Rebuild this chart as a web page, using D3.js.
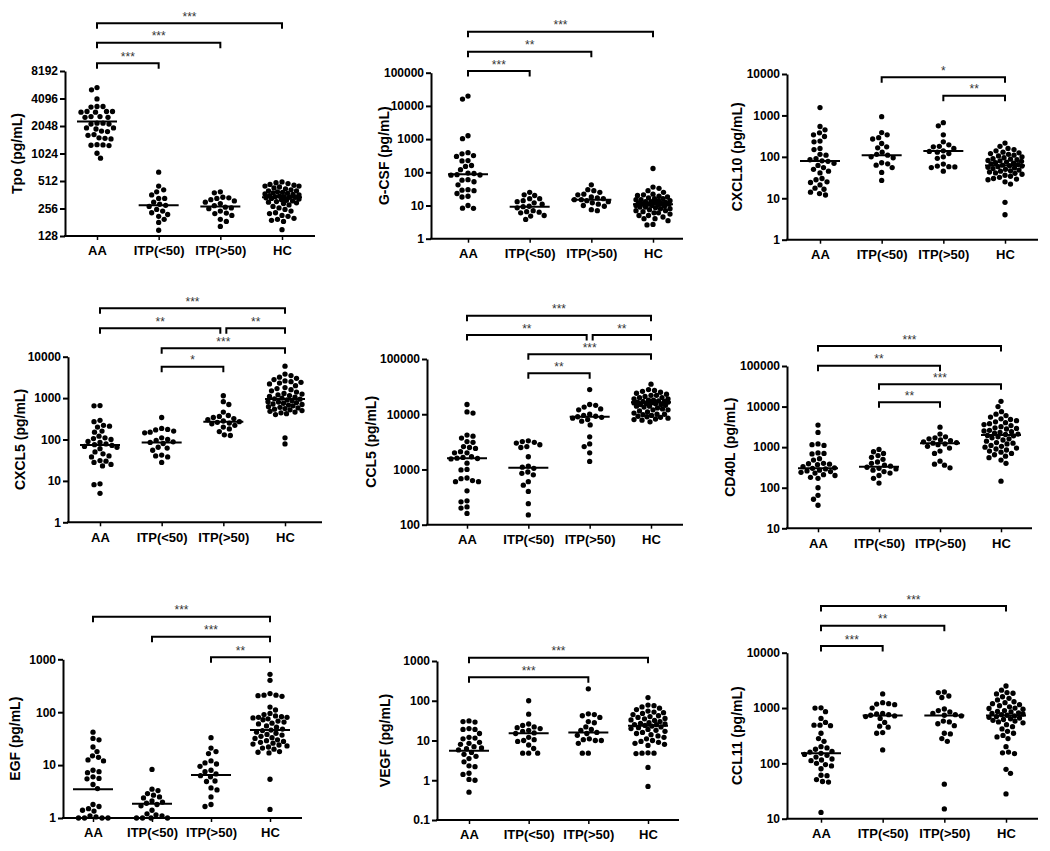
<!DOCTYPE html>
<html><head><meta charset="utf-8">
<script src="https://cdn.jsdelivr.net/npm/d3@7"></script>
<style>
body{margin:0;background:#fff}
text{font-family:"Liberation Sans",Arial,sans-serif}
</style>
</head><body>
<svg id="chart" width="1050" height="851"></svg>
<script>
const categories = ["AA", "ITP(<50)", "ITP(>50)", "HC"];

// ---- values: [AA, ITP(<50), ITP(>50), HC] ----
const tpoValues = [
  [5400,5100,4050,3350,3350,3300,2950,2950,2900,2900,2950,2600,2600,2550,2550,2200,2200,2150,2150,1950,1950,1900,1800,1780,1650,1620,1520,1500,1480,1280,1270,1260,1250,1030,910],
  [640,450,410,390,360,330,330,300,285,277,270,250,240,230,220,210,195,180,148],
  [390,380,340,335,330,320,310,300,290,275,265,260,255,240,228,225,215,195,185,163],
  [500,490,480,470,460,450,450,440,430,420,410,400,400,390,385,380,375,370,365,360,355,350,345,345,340,340,335,330,325,320,315,310,305,300,295,290,280,270,260,250,240,230,225,215,210,200,195,190,185,150]
];
const tpoMedians = [2290, 277, 270, 341];
const tpoTicks = [128, 256, 512, 1024, 2048, 4096, 8192];
const tpoBrackets = [["AA","ITP(<50)","***"],["AA","ITP(>50)","***"],["AA","HC","***"]];

const gcsfValues = [
  [19800,16000,1260,1030,390,360,320,300,225,220,160,150,120,95,92,85,83,82,60,58,52,42,30,29,28,23,19,18,10,8.3,8.2],
  [25,21,20,16,16,14,13,12,11,9.5,9.2,8.5,7,6.5,6.3,6,5,4.8,3.8],
  [42,30,28,25,22,21,18,17,16,15,15,14,13,12,11,10,9.5,7.5,7],
  [130,36,33,28,25,22,21,20,19,18,17,16,16,15,15,14,14,13,13,12.5,12,12,11.5,11,11,11,10.5,10,10,9.5,9,9,8.5,8,8,7.5,7,7,6.5,6,6,5.5,5,5,4.5,4,4,3.5,2.7,2.6]
];
const gcsfMedians = [87, 9.2, 15, 11];
const gcsfTicks = [1, 10, 100, 1000, 10000, 100000];
const gcsfBrackets = [["AA","ITP(<50)","***"],["AA","ITP(>50)","**"],["AA","HC","***"]];

const cxcl10Values = [
  [1550,540,450,380,340,310,240,230,160,150,115,110,90,85,80,78,70,62,55,50,45,41,30,28,25,24,21,17.5,16.5,14,13,12],
  [935,385,340,290,270,210,175,165,130,115,110,100,95,72,68,63,55,42,27],
  [670,560,340,230,195,180,175,160,140,135,130,120,100,92,67,60,58,57,55,45],
  [215,180,160,150,140,130,125,120,115,110,105,100,95,90,88,85,82,80,78,75,72,70,68,65,63,61,60,58,56,54,52,50,48,46,45,43,41,40,38,36,34,32,30,29,28,25,22,8,4]
];
const cxcl10Medians = [79, 110, 138, 62];
const cxcl10Ticks = [1, 10, 100, 1000, 10000];
const cxcl10Brackets = [["ITP(<50)","HC","*"],["ITP(>50)","HC","**"]];

const cxcl5Values = [
  [660,650,290,270,220,210,200,160,150,120,110,105,100,90,85,78,75,72,68,65,60,50,45,40,38,31,30,28,25,23,8.5,8.1,5],
  [340,185,175,170,160,150,145,110,100,95,88,85,80,65,62,55,42,40,38,28],
  [1140,820,700,460,380,360,340,320,300,280,270,260,250,240,220,200,180,155,130,125],
  [5900,3800,3500,3200,3000,2800,2600,2500,2400,2300,2200,2000,1800,1700,1600,1500,1400,1300,1250,1200,1150,1100,1050,1000,960,940,900,860,820,800,780,750,720,700,680,650,620,600,580,560,540,520,500,480,460,440,420,400,110,78]
];
const cxcl5Medians = [74, 85, 270, 950];
const cxcl5Ticks = [1, 10, 100, 1000, 10000];
const cxcl5Brackets = [["ITP(<50)","ITP(>50)","*"],["ITP(<50)","HC","***"],["AA","ITP(>50)","**"],["ITP(>50)","HC","**"],["AA","HC","***"]];

const ccl5Values = [
  [15000,11000,10500,4200,4000,3700,3200,3100,2600,2500,2400,2100,2000,2000,1700,1650,1600,1580,1550,1300,1000,980,700,680,630,600,600,410,270,260,210,200,160],
  [3300,3200,3100,3000,2800,2600,2500,1700,1150,1100,1050,900,850,800,600,520,400,240,150],
  [28000,15000,14500,13500,12500,12000,10000,9500,9200,9000,8800,8500,8000,7500,6400,3900,2900,2600,2000,1400],
  [35000,28000,27000,26000,25000,24000,23000,22000,22000,21000,20000,20000,19000,19000,18000,18000,17500,17000,17000,16500,16500,16000,16000,15500,15500,15000,15000,14500,14000,14000,13500,13000,12500,12000,12000,11500,11000,10500,10000,10000,9800,9500,9200,9000,8800,8500,8200,8000,7800,7300]
];
const ccl5Medians = [1590, 1070, 9000, 16400];
const ccl5Ticks = [100, 1000, 10000, 100000];
const ccl5Brackets = [["ITP(<50)","ITP(>50)","**"],["ITP(<50)","HC","***"],["AA","ITP(>50)","**"],["ITP(>50)","HC","**"],["AA","HC","***"]];

const cd40lValues = [
  [3500,2300,1200,1150,1100,720,700,680,520,480,400,390,380,370,330,310,300,290,270,260,250,240,230,210,200,180,170,100,65,52,37],
  [880,770,700,620,560,500,430,400,360,340,320,300,290,270,250,230,200,170,130],
  [3100,2100,1800,1700,1600,1500,1450,1350,1300,1250,1200,1150,1050,950,800,700,450,380,360,310],
  [13500,10000,7500,6500,6000,5500,5000,4800,4500,4200,4000,3800,3600,3400,3200,3000,2900,2800,2600,2500,2400,2300,2200,2100,2050,1950,1900,1800,1700,1600,1500,1400,1300,1250,1200,1100,1050,1000,950,900,850,800,750,700,650,600,550,480,400,145]
];
const cd40lMedians = [300, 330, 1245, 2000];
const cd40lTicks = [10, 100, 1000, 10000, 100000];
const cd40lBrackets = [["ITP(<50)","ITP(>50)","**"],["ITP(<50)","HC","***"],["AA","ITP(>50)","**"],["AA","HC","***"]];

const egfValues = [
  [42,32,30,22,18,15,14,12.5,12,8,7.5,7.2,6,5.6,5.5,4.3,3.6,1.8,1.65,1.5,1.4,1.35,1.1,1.05,1,1,1,1],
  [8.3,3.5,3.3,2.9,2.7,2.5,2.4,2.1,2.0,1.9,1.8,1.7,1.4,1.2,1.15,1.1,1,1,1,1],
  [33,21,18,16.5,12,11,10.5,9.5,8,7.5,6.8,6.3,6,5,4.9,3.7,3.4,2.5,1.8,1.65],
  [520,400,225,210,210,205,200,125,110,95,90,85,82,80,80,78,75,72,68,65,62,60,55,52,48,46,45,42,40,38,37,35,33,32,30,29,28,27,26,25,24,23,22,21,20,18,17.5,17,5.4,1.45]
];
const egfMedians = [3.5, 1.85, 6.5, 46];
const egfTicks = [1, 10, 100, 1000];
const egfBrackets = [["ITP(>50)","HC","**"],["ITP(<50)","HC","***"],["AA","HC","***"]];

const vegfValues = [
  [31,30,29,20,19,19,15,12,11.5,11,9,8.5,8,7,6.5,6.2,5.8,5,4.5,4,3.5,2.9,2.3,2.2,1.5,1.4,1.05,1.0,0.5],
  [100,46,26,24,22,21,20,18,17,15.5,15,12,10.5,10,9.5,7.7,6.3,4.8,4.8,4.8],
  [200,47,45,42,38,30,28,22,19,18,16,15,13.5,11,10.5,10,10,8.5,4.8,4.8],
  [120,78,75,70,65,60,55,52,50,48,45,42,40,38,36,35,33,32,30,28,27,26,25,25,24,23,22,21,20,19,18,17,16,15,14,13,12,11,10,9.5,9,8.5,8,7.5,4.9,4.8,4.8,4.7,2.1,0.7]
];
const vegfMedians = [5.5, 15.2, 16, 23.6];
const vegfTicks = [0.1, 1, 10, 100, 1000];
const vegfBrackets = [["AA","ITP(>50)","***"],["AA","HC","***"]];

const ccl11Values = [
  [1010,1000,860,650,550,490,490,480,350,280,250,200,190,180,165,160,152,145,140,130,120,115,112,100,95,90,80,61,60,51,47,46,13],
  [1800,1250,1200,1180,1150,1000,800,780,760,740,720,700,650,550,470,450,360,350,175],
  [1950,1900,1650,1550,960,900,850,800,760,740,720,580,560,520,480,350,340,280,250,42,15],
  [2500,2100,1900,1850,1800,1600,1500,1400,1300,1250,1200,1150,1100,1050,1000,980,950,900,870,850,820,800,780,760,740,720,700,680,660,640,620,600,580,560,540,500,460,420,380,350,320,300,280,200,160,155,150,78,66,28]
];
const ccl11Medians = [152, 730, 730, 730];
const ccl11Ticks = [10, 100, 1000, 10000];
const ccl11Brackets = [["AA","ITP(<50)","***"],["AA","ITP(>50)","**"],["AA","HC","***"]];

// ---- layout (pixels) ----
const panels = [
  {title:"Tpo (pg/mL)", values:tpoValues, medians:tpoMedians, ticks:tpoTicks, brackets:tpoBrackets, base:2,
   L:{ax:65, c0:97, c3:282, xEnd:315, yTop:71, yBot:236, titleX:17, bracketY:[63.3,42.7,23.3]}},
  {title:"G-CSF (pg/mL)", values:gcsfValues, medians:gcsfMedians, ticks:gcsfTicks, brackets:gcsfBrackets, base:10,
   L:{ax:431, c0:468, c3:653, xEnd:683, yTop:72.7, yBot:238.7, titleX:384, bracketY:[71,51.7,31.7]}},
  {title:"CXCL10 (pg/mL)", values:cxcl10Values, medians:cxcl10Medians, ticks:cxcl10Ticks, brackets:cxcl10Brackets, base:10,
   L:{ax:787, c0:820, c3:1005, xEnd:1038, yTop:74, yBot:239.7, titleX:737, bracketY:[77.3,95.7]}},
  {title:"CXCL5 (pg/mL)", values:cxcl5Values, medians:cxcl5Medians, ticks:cxcl5Ticks, brackets:cxcl5Brackets, base:10,
   L:{ax:68, c0:100, c3:285, xEnd:322, yTop:356.7, yBot:522.3, titleX:20, bracketY:[366.7,348.3,328.3,328.3,308.3]}},
  {title:"CCL5 (pg/mL)", values:ccl5Values, medians:ccl5Medians, ticks:ccl5Ticks, brackets:ccl5Brackets, base:10,
   L:{ax:427, c0:467, c3:651, xEnd:683, yTop:359, yBot:524.7, titleX:371, bracketY:[373.3,354.3,335,335,315.7]}},
  {title:"CD40L (pg/mL)", values:cd40lValues, medians:cd40lMedians, ticks:cd40lTicks, brackets:cd40lBrackets, base:10,
   L:{ax:787, c0:818, c3:1001, xEnd:1032, yTop:366, yBot:528.3, titleX:730, bracketY:[402.3,384.3,365.7,346]}},
  {title:"EGF (pg/mL)", values:egfValues, medians:egfMedians, ticks:egfTicks, brackets:egfBrackets, base:10,
   L:{ax:63, c0:93, c3:270, xEnd:302, yTop:659.3, yBot:818, titleX:15, bracketY:[657.3,636.7,616.7]}},
  {title:"VEGF (pg/mL)", values:vegfValues, medians:vegfMedians, ticks:vegfTicks, brackets:vegfBrackets, base:10,
   L:{ax:437, c0:469, c3:648, xEnd:679, yTop:661, yBot:820, titleX:385, bracketY:[677.3,657.7]}},
  {title:"CCL11 (pg/mL)", values:ccl11Values, medians:ccl11Medians, ticks:ccl11Ticks, brackets:ccl11Brackets, base:10,
   L:{ax:787, c0:821, c3:1006, xEnd:1038, yTop:652.7, yBot:818.7, titleX:737, bracketY:[646,625.7,606]}}
];

const svg = d3.select("#chart");
const R = 2.65;
const MAXW = 17;

function swarm(vals, y, r, gap, maxW) {
  const pts = vals.map(v => ({v, y: y(v)})).sort((a, b) => a.y - b.y);
  const placed = [];
  const D = 2 * r + gap;
  pts.forEach((p, i) => {
    const s = (i % 2) ? -1 : 1;
    let best = null, bestScore = -1, bestO = 0;
    for (let k = 0; k <= maxW * 2 && best === null; k++) {
      const offs = k === 0 ? [0] : [s * k * 0.5, -s * k * 0.5];
      for (const o of offs) {
        let md = Infinity;
        for (const q of placed) {
          const d = Math.hypot(q.dx - o, q.y - p.y);
          if (d < md) md = d;
        }
        if (md >= D) { best = o; break; }
        if (md > bestScore + 0.01) { bestScore = md; bestO = o; }
      }
    }
    p.dx = best === null ? bestO : best;
    placed.push(p);
  });
  return pts;
}

panels.forEach(P => {
  const L = P.L;
  const g = svg.append("g");
  const y = d3.scaleLog().base(P.base).domain([P.ticks[0], P.ticks[P.ticks.length - 1]]).range([L.yBot, L.yTop]);
  const x = d3.scalePoint().domain(categories).range([L.c0, L.c3]);

  // y axis
  const ya = g.append("g").attr("transform", `translate(${L.ax},0)`)
    .call(d3.axisLeft(y).tickValues(P.ticks).tickFormat(d => String(d)).tickSize(5).tickSizeOuter(0).tickPadding(2));
  ya.select(".domain").attr("stroke", "#000").attr("stroke-width", 2);
  ya.selectAll(".tick line").attr("stroke", "#000").attr("stroke-width", 2);
  ya.selectAll(".tick text").attr("font-size", 12).attr("font-weight", "bold").attr("fill", "#000")
    .attr("font-family", '"Liberation Sans",Arial,sans-serif');

  // x axis
  const xa = g.append("g").attr("transform", `translate(0,${L.yBot})`)
    .call(d3.axisBottom(x).tickSize(4).tickPadding(6));
  xa.select(".domain").remove();
  xa.selectAll(".tick line").attr("stroke", "#000").attr("stroke-width", 1.5);
  xa.selectAll(".tick text").attr("font-size", 13).attr("font-weight", "bold").attr("fill", "#000")
    .attr("font-family", '"Liberation Sans",Arial,sans-serif');
  g.append("line").attr("x1", L.ax - 1).attr("x2", L.xEnd).attr("y1", L.yBot).attr("y2", L.yBot)
    .attr("stroke", "#000").attr("stroke-width", 2);

  // title
  g.append("text").attr("transform", `translate(${L.titleX},${(L.yTop + L.yBot) / 2}) rotate(-90)`)
    .attr("text-anchor", "middle").attr("dominant-baseline", "central")
    .attr("font-size", 14).attr("font-weight", "bold").text(P.title);

  // dots + median lines
  categories.forEach((c, ci) => {
    const pts = swarm(P.values[ci], y, R, 0.6, MAXW);
    g.append("g").selectAll("circle").data(pts).join("circle")
      .attr("cx", d => x(c) + d.dx).attr("cy", d => d.y).attr("r", R).attr("fill", "#000");
    g.append("line").attr("x1", x(c) - 20).attr("x2", x(c) + 20)
      .attr("y1", y(P.medians[ci])).attr("y2", y(P.medians[ci]))
      .attr("stroke", "#000").attr("stroke-width", 2);
  });

  // significance brackets
  const bs = P.brackets.map((b, i) => ({a: b[0], b: b[1], lab: b[2], yy: L.bracketY[i], x1: x(b[0]), x2: x(b[1])}));
  bs.forEach(b => bs.forEach(o => {
    if (o !== b && o.yy === b.yy && o.a === b.b) { b.x2 -= 3; o.x1 += 3; }
  }));
  const bg = g.append("g");
  const sg = g.append("g").attr("opacity", 0.99);
  bs.forEach(b => {
    bg.append("path").attr("d", `M${b.x1},${b.yy + 5.5}V${b.yy}H${b.x2}V${b.yy + 5.5}`)
      .attr("fill", "none").attr("stroke", "#000").attr("stroke-width", 2);
    sg.append("text").attr("x", (b.x1 + b.x2) / 2).attr("y", b.yy - 2.5).attr("text-anchor", "middle")
      .attr("font-size", 12).attr("fill", "#333").text(b.lab);
  });
});
</script>
</body></html>
